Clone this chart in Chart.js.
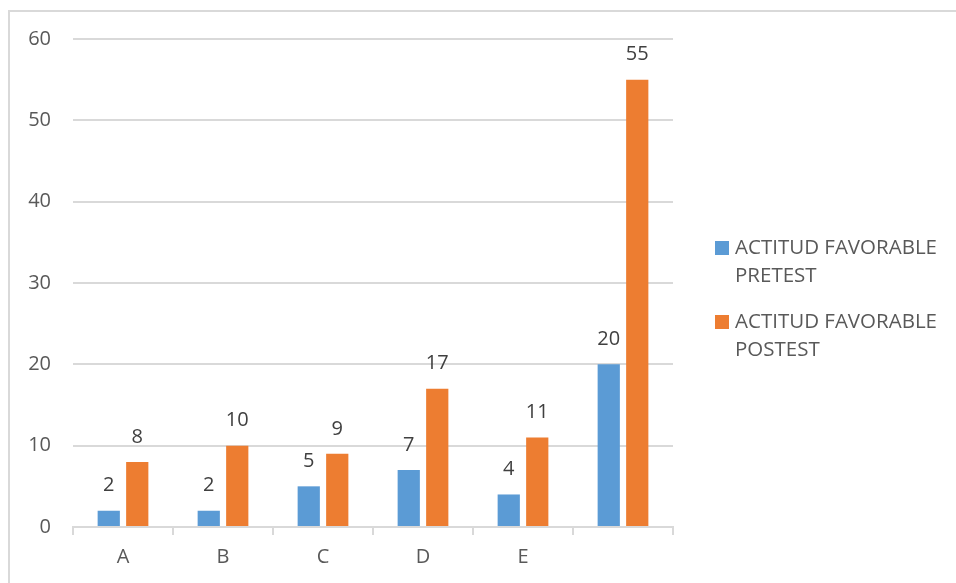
<!DOCTYPE html>
<html>
<head>
<meta charset="utf-8">
<script src="https://cdn.jsdelivr.net/npm/chart.js@4/dist/chart.umd.min.js"></script>
<style>
  html, body { margin: 0; padding: 0; background: #fff; }
  #wrap { position: relative; width: 956px; height: 583px; overflow: hidden; }
  #frame { position: absolute; left: 8px; top: 10px; width: 980px; height: 600px; border: 2px solid #d9d9d9; box-sizing: border-box; }
  canvas { position: absolute; left: 0; top: 0; }
</style>
</head>
<body>
<div id="wrap">
  <div id="frame"></div>
  <canvas id="chart" width="956" height="583"></canvas>
</div>
<script>
const categories = ['A', 'B', 'C', 'D', 'E', ''];
const pretest = [2, 2, 5, 7, 4, 20];
const postest = [8, 10, 9, 17, 11, 55];
const seriesNames = [['ACTITUD FAVORABLE', 'PRETEST'], ['ACTITUD FAVORABLE', 'POSTEST']];
const yMax = 60;
const yStep = 10;

const FONT = '"Open Sans", sans-serif';
const colors = ['#5B9BD5', '#ED7D31'];

// etiquetas de valor encima de cada barra
const valueLabels = {
  id: 'valueLabels',
  afterDatasetsDraw(chart) {
    const ctx = chart.ctx;
    ctx.save();
    ctx.font = '20px ' + FONT;
    ctx.fillStyle = '#404040';
    ctx.textAlign = 'center';
    ctx.textBaseline = 'middle';
    chart.data.datasets.forEach((ds, i) => {
      chart.getDatasetMeta(i).data.forEach((bar, j) => {
        ctx.fillText(ds.data[j], bar.x, bar.y - 25);
      });
    });
    ctx.restore();
  }
};

// leyenda a la derecha con texto en dos líneas
const sideLegend = {
  id: 'sideLegend',
  afterDraw(chart) {
    const ctx = chart.ctx;
    ctx.save();
    ctx.font = '20.5px ' + FONT;
    ctx.textAlign = 'left';
    ctx.textBaseline = 'middle';
    const tops = [248, 322];
    seriesNames.forEach((lines, i) => {
      ctx.fillStyle = colors[i];
      ctx.fillRect(715, tops[i] - 7, 14, 14);
      ctx.fillStyle = '#595959';
      lines.forEach((t, k) => ctx.fillText(t, 735, tops[i] + k * 28));
    });
    ctx.restore();
  }
};

new Chart(document.getElementById('chart'), {
  type: 'bar',
  data: {
    labels: categories,
    datasets: [
      { label: seriesNames[0].join(' '), data: pretest, backgroundColor: colors[0], categoryPercentage: 0.57, barPercentage: 0.78 },
      { label: seriesNames[1].join(' '), data: postest, backgroundColor: colors[1], categoryPercentage: 0.57, barPercentage: 0.78 }
    ]
  },
  options: {
    responsive: false,
    animation: false,
    layout: { padding: { left: 0, right: 283, top: 39, bottom: 0 } },
    plugins: { legend: { display: false }, tooltip: { enabled: false } },
    scales: {
      x: {
        grid: { display: true, drawOnChartArea: false, color: '#d9d9d9', lineWidth: 2, tickLength: 8, offset: true },
        border: { color: '#d9d9d9', width: 2 },
        ticks: { color: '#595959', font: { family: FONT, size: 20 }, padding: 10 },
        afterFit(axis) { axis.height = 56; }
      },
      y: {
        min: 0,
        max: yMax,
        ticks: { stepSize: yStep, color: '#595959', font: { family: FONT, size: 20 }, padding: 22 },
        grid: { color: '#d9d9d9', lineWidth: 2, drawTicks: false },
        border: { display: false },
        afterFit(axis) { axis.width = 73; }
      }
    }
  },
  plugins: [valueLabels, sideLegend]
});
</script>
</body>
</html>
